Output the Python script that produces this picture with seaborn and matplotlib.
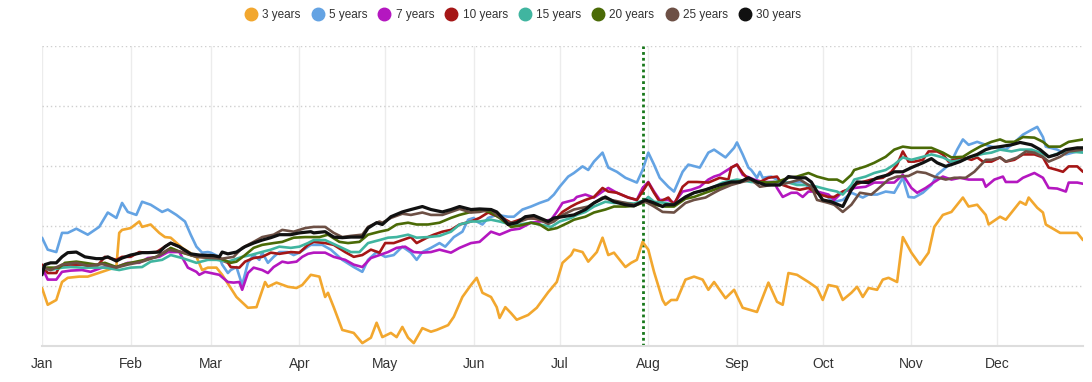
import numpy as np
import pandas as pd
import matplotlib
matplotlib.use("Agg")
import matplotlib.pyplot as plt
import seaborn as sns
from matplotlib.lines import Line2D

# ---------------- data ----------------
months = ["Jan", "Feb", "Mar", "Apr", "May", "Jun", "Jul", "Aug", "Sep", "Oct", "Nov", "Dec"]
month_start_day = [0, 31, 59, 90, 120, 151, 181, 212, 243, 273, 304, 334]
series_names = ["3 years", "5 years", "7 years", "10 years", "15 years", "20 years", "25 years", "30 years"]
series_colors = ["#F2A72E", "#64A3E3", "#B417C0", "#A51616", "#40B5A0", "#4A6A06", "#6D5045", "#111111"]
marker_day = 210  # Jul 30

# (day of year, value)
y3 = [(0,0.96),(2,0.68),(5,0.76),(7,1.06),(9,1.13),(13,1.15),(16,1.15),(21,1.23),(26,1.31),(27,1.88),
      (28,1.93),(31,1.96),(34,2.07),(35,1.98),(38,2.02),(41,1.88),(43,1.81),(45,1.80),(49,1.63),(54,1.48),
      (56,1.26),(58,1.30),(61,1.30),(63,1.18),(66,0.96),(68,0.81),(72,0.63),(75,0.64),(78,1.06),(79,0.98),
      (82,1.05),(86,0.98),(89,0.96),(91,1.01),(94,1.18),(97,1.15),(99,0.81),(100,0.88),(102,0.64),(105,0.26),
      (109,0.21),(112,0.04),(115,0.13),(117,0.38),(119,0.14),(122,0.21),(124,0.14),(126,0.31),(128,0.13),(130,0.04),
      (133,0.29),(136,0.23),(138,0.26),(142,0.34),(144,0.48),(147,0.81),(150,1.01),(152,1.13),(154,0.88),(157,0.81),
      (159,0.64),(160,0.46),(162,0.64),(164,0.54),(166,0.43),(170,0.51),(173,0.63),(177,0.89),(180,1.06),(182,1.38),
      (185,1.51),(186,1.60),(189,1.56),(191,1.40),(194,1.56),(196,1.80),(198,1.51),(200,1.55),(204,1.31),(206,1.38),
      (208,1.43),(210,1.73),(212,1.60),(214,1.23),(217,0.76),(218,0.68),(220,0.76),(222,0.76),(225,1.10),(228,1.15),
      (231,1.10),(233,0.93),(235,1.06),(239,0.79),(242,0.93),(245,0.63),(250,0.56),(254,1.05),(257,0.73),(259,0.68),
      (261,1.21),(264,1.18),(268,1.06),(271,0.96),(273,0.76),(275,1.01),(278,0.98),(280,0.76),(283,0.88),(285,0.98),
      (287,0.81),(289,0.96),(292,0.93),(294,1.10),(296,1.13),(299,1.06),(301,1.81),(304,1.55),(307,1.35),(310,1.55),
      (312,1.98),(315,2.18),(318,2.23),(322,2.47),(324,2.32),(327,2.35),(330,2.18),(331,2.02),(335,2.15),(337,2.10),
      (342,2.40),(344,2.35),(345,2.47),(348,2.30),(350,2.22),(351,2.02),(356,1.88),(358,1.88),(362,1.88),(364,1.76)]

y5 = [(0,1.80),(2,1.60),(5,1.56),(7,1.88),(9,1.88),(12,1.95),(16,1.85),(20,1.98),(23,2.22),(26,2.13),
      (28,2.38),(30,2.23),(33,2.18),(35,2.40),(38,2.35),(42,2.23),(44,2.27),(47,2.18),(50,2.07),(52,1.85),
      (54,1.65),(56,1.55),(58,1.56),(59,1.55),(62,1.48),(63,1.35),(65,1.21),(66,1.26),(68,1.31),(70,1.01),
      (72,1.38),(74,1.51),(76,1.43),(77,1.55),(79,1.38),(81,1.48),(83,1.56),(86,1.56),(88,1.51),(90,1.55),
      (93,1.65),(94,1.68),(98,1.68),(101,1.60),(105,1.43),(109,1.31),(112,1.23),(114,1.43),(117,1.56),(120,1.48),
      (123,1.51),(126,1.65),(129,1.55),(131,1.43),(133,1.56),(136,1.63),(139,1.71),(141,1.65),(144,1.81),(147,1.90),
      (149,2.10),(151,2.13),(152,2.07),(154,2.02),(156,2.13),(159,2.18),(163,2.15),(165,2.15),(168,2.27),(171,2.32),
      (174,2.38),(177,2.43),(179,2.52),(181,2.65),(184,2.82),(186,2.88),(189,2.99),(191,2.93),(193,3.07),(196,3.22),
      (198,2.97),(201,2.90),(204,2.80),(208,2.72),(210,2.93),(212,3.22),(214,3.02),(216,2.80),(219,2.65),(221,2.57),
      (224,2.90),(226,3.02),(230,2.97),(233,3.22),(235,3.27),(239,3.14),(242,3.30),(243,3.39),(245,3.19),(247,2.97),
      (248,2.93),(250,2.80),(251,2.90),(252,2.80),(255,2.82),(259,2.72),(263,2.72),(266,2.73),(269,2.60),(272,2.55),
      (275,2.47),(277,2.40),(280,2.43),(283,2.55),(287,2.47),(289,2.52),(292,2.52),(295,2.57),(298,2.55),(301,2.80),
      (303,2.48),(305,2.47),(308,2.55),(311,2.68),(313,2.85),(316,2.97),(318,3.07),(320,3.27),(322,3.44),(324,3.35),
      (327,3.40),(330,3.35),(332,3.32),(335,3.30),(337,3.27),(340,3.39),(343,3.52),(346,3.60),(348,3.65),(350,3.48),
      (351,3.32),(355,3.27),(358,3.19),(362,3.24),(364,3.24)]

y7 = [(0,1.31),(2,1.10),(5,1.10),(7,1.23),(10,1.25),(14,1.26),(17,1.23),(21,1.30),(26,1.31),(30,1.38),
      (34,1.38),(37,1.46),(41,1.48),(44,1.56),(48,1.56),(51,1.30),(54,1.23),(55,1.18),(57,1.23),(59,1.21),
      (62,1.18),(65,1.06),(67,1.05),(69,1.06),(70,0.93),(72,1.21),(74,1.30),(77,1.26),(79,1.21),(81,1.31),
      (84,1.40),(86,1.38),(89,1.40),(91,1.48),(93,1.53),(95,1.55),(99,1.55),(102,1.48),(106,1.43),(109,1.35),
      (112,1.31),(115,1.46),(118,1.51),(121,1.56),(124,1.63),(127,1.65),(130,1.56),(133,1.55),(136,1.56),(139,1.60),
      (143,1.55),(146,1.63),(150,1.71),(153,1.73),(157,1.90),(160,1.85),(164,1.93),(167,1.95),(171,2.05),(174,2.07),
      (178,2.10),(180,2.23),(182,2.38),(186,2.43),(187,2.48),(190,2.52),(193,2.47),(196,2.57),(198,2.63),(201,2.55),
      (205,2.47),(208,2.43),(210,2.63),(212,2.73),(214,2.57),(216,2.43),(219,2.43),(221,2.38),(224,2.57),(227,2.60),
      (230,2.65),(233,2.77),(235,2.82),(237,2.85),(241,2.97),(243,3.02),(245,2.85),(249,2.77),(252,2.73),(256,2.73),
      (257,2.63),(259,2.48),(262,2.55),(264,2.55),(266,2.48),(268,2.57),(271,2.57),(275,2.52),(277,2.43),(280,2.57),
      (283,2.60),(284,2.63),(288,2.65),(291,2.72),(295,2.72),(298,2.72),(301,2.85),(304,2.63),(306,2.55),(309,2.63),
      (312,2.73),(315,2.82),(318,2.77),(321,2.80),(324,2.77),(327,2.77),(329,2.77),(330,2.65),(333,2.77),(336,2.82),
      (337,2.73),(341,2.73),(343,2.80),(347,2.88),(350,2.80),(352,2.63),(355,2.62),(358,2.57),(359,2.72),(362,2.72),
      (364,2.70)]

y10 = [(0,1.35),(2,1.21),(5,1.21),(6,1.31),(9,1.35),(14,1.35),(19,1.31),(22,1.48),(26,1.43),(28,1.48),
       (31,1.48),(34,1.56),(36,1.55),(40,1.56),(43,1.65),(45,1.71),(48,1.65),(52,1.51),(56,1.48),(61,1.46),
       (65,1.38),(66,1.31),(69,1.30),(71,1.40),(74,1.46),(77,1.48),(80,1.55),(83,1.53),(87,1.56),(90,1.55),
       (93,1.68),(95,1.73),(99,1.71),(102,1.68),(106,1.56),(109,1.48),(112,1.51),(115,1.60),(118,1.55),(120,1.71),
       (123,1.71),(126,1.76),(129,1.81),(131,1.71),(135,1.81),(137,1.85),(140,1.90),(143,1.93),(146,2.02),(150,2.07),
       (153,2.13),(156,2.22),(158,2.18),(161,2.13),(164,2.05),(167,2.10),(171,2.13),(174,2.10),(177,2.05),(180,2.13),
       (182,2.23),(185,2.32),(187,2.37),(190,2.43),(193,2.48),(196,2.63),(198,2.57),(201,2.55),(205,2.47),(208,2.43),
       (210,2.57),(212,2.72),(214,2.55),(216,2.40),(219,2.47),(221,2.35),(224,2.65),(226,2.73),(229,2.73),(233,2.72),
       (237,2.80),(240,2.77),(241,2.97),(243,3.02),(245,2.88),(247,2.77),(249,2.73),(251,2.73),(254,2.80),(257,2.82),
       (259,2.68),(262,2.63),(265,2.60),(268,2.63),(270,2.57),(272,2.52),(275,2.48),(277,2.48),(280,2.57),(283,2.63),
       (284,2.68),(287,2.73),(290,2.77),(294,2.80),(297,2.90),(299,3.02),(301,3.24),(303,3.07),(305,3.07),(308,3.10),
       (310,3.24),(313,3.24),(315,3.19),(317,3.07),(319,3.10),(322,3.14),(325,3.10),(327,3.14),(329,3.07),(332,3.07),
       (335,3.14),(337,3.07),(340,3.10),(343,3.19),(347,3.19),(350,3.14),(352,2.97),(355,2.93),(357,2.90),(359,2.99),
       (362,2.99),(364,2.90)]

y15 = [(0,1.30),(3,1.26),(7,1.30),(10,1.31),(14,1.30),(17,1.30),(22,1.30),(27,1.26),(31,1.30),(35,1.31),
       (38,1.40),(42,1.43),(45,1.51),(49,1.46),(54,1.38),(58,1.43),(61,1.43),(65,1.40),(67,1.43),(70,1.48),
       (73,1.51),(76,1.55),(80,1.60),(83,1.65),(87,1.63),(90,1.65),(93,1.71),(95,1.76),(99,1.76),(104,1.65),
       (108,1.56),(111,1.56),(114,1.71),(118,1.76),(121,1.80),(124,1.81),(128,1.85),(131,1.80),(135,1.81),(139,1.83),
       (143,1.90),(146,2.02),(150,2.07),(153,2.07),(157,2.10),(160,2.07),(164,2.02),(167,2.02),(171,2.05),(174,2.02),
       (178,1.98),(181,2.07),(185,2.13),(187,2.18),(190,2.23),(193,2.32),(197,2.40),(200,2.38),(204,2.38),(207,2.37),
       (211,2.43),(212,2.48),(214,2.40),(218,2.38),(221,2.35),(225,2.48),(228,2.55),(232,2.60),(235,2.65),(238,2.72),
       (243,2.77),(248,2.73),(252,2.72),(257,2.73),(261,2.72),(264,2.68),(268,2.68),(271,2.65),(275,2.60),(278,2.57),
       (280,2.52),(283,2.68),(284,2.77),(288,2.82),(291,2.88),(295,2.93),(298,3.02),(301,3.14),(304,3.10),(308,3.15),
       (311,3.19),(315,3.14),(318,3.07),(322,3.10),(325,3.15),(329,3.20),(332,3.22),(335,3.27),(339,3.24),(342,3.27),
       (346,3.27),(349,3.22),(352,3.15),(356,3.22),(359,3.24),(364,3.22)]

y20 = [(0,1.30),(2,1.30),(6,1.30),(8,1.38),(12,1.40),(15,1.38),(19,1.35),(22,1.38),(26,1.31),(29,1.36),
       (33,1.40),(36,1.43),(40,1.48),(43,1.56),(45,1.63),(49,1.55),(54,1.48),(59,1.48),(62,1.46),(66,1.38),
       (68,1.40),(71,1.51),(74,1.63),(77,1.68),(81,1.71),(84,1.73),(88,1.80),(92,1.81),(97,1.81),(100,1.85),
       (104,1.73),(107,1.71),(111,1.73),(114,1.85),(118,1.90),(121,1.93),(124,2.02),(128,2.05),(131,2.02),(135,2.02),
       (139,2.05),(143,2.13),(146,2.18),(150,2.23),(153,2.27),(157,2.22),(160,2.13),(164,1.98),(167,2.00),(171,2.05),
       (174,2.02),(177,1.93),(180,1.96),(184,2.05),(186,2.10),(190,2.15),(193,2.22),(197,2.27),(200,2.32),(204,2.32),
       (207,2.33),(211,2.40),(214,2.35),(218,2.32),(221,2.32),(225,2.45),(228,2.48),(232,2.55),(235,2.60),(238,2.65),
       (243,2.73),(247,2.78),(250,2.73),(254,2.72),(257,2.73),(261,2.80),(264,2.82),(268,2.88),(271,2.82),(275,2.77),
       (278,2.77),(280,2.72),(283,2.85),(284,2.93),(288,2.99),(291,3.05),(295,3.15),(298,3.27),(301,3.32),(304,3.30),
       (308,3.30),(311,3.30),(315,3.22),(318,3.14),(322,3.15),(325,3.24),(328,3.32),(332,3.40),(335,3.44),(337,3.40),
       (340,3.40),(343,3.48),(347,3.47),(350,3.40),(352,3.32),(356,3.32),(359,3.40),(364,3.44)]

y25 = [(0,1.31),(3,1.26),(7,1.35),(12,1.38),(16,1.33),(21,1.36),(26,1.30),(30,1.35),(35,1.40),(40,1.48),
       (44,1.60),(49,1.56),(54,1.48),(59,1.46),(63,1.45),(67,1.48),(70,1.63),(74,1.73),(77,1.81),(81,1.85),
       (84,1.93),(88,1.90),(92,1.96),(95,1.98),(99,1.98),(102,1.88),(105,1.81),(108,1.83),(112,1.85),(114,1.98),
       (118,2.07),(119,2.05),(122,2.13),(126,2.20),(129,2.18),(133,2.22),(136,2.18),(140,2.18),(143,2.23),(146,2.28),
       (150,2.22),(153,2.23),(157,2.27),(159,2.18),(163,2.05),(166,2.05),(170,2.12),(173,2.12),(177,2.03),(179,2.07),
       (182,2.18),(186,2.27),(191,2.32),(196,2.47),(199,2.43),(204,2.38),(207,2.35),(211,2.40),(214,2.32),(217,2.23),
       (221,2.22),(225,2.38),(228,2.43),(232,2.47),(235,2.55),(237,2.60),(241,2.68),(244,2.72),(248,2.77),(251,2.65),
       (255,2.68),(258,2.68),(262,2.73),(265,2.77),(269,2.65),(271,2.43),(275,2.38),(277,2.35),(280,2.23),(283,2.35),
       (286,2.55),(290,2.52),(292,2.60),(296,2.77),(299,2.82),(303,2.83),(306,2.90),(309,2.88),(312,2.82),(316,2.77),
       (319,2.80),(323,2.80),(326,2.90),(330,3.10),(332,3.10),(335,3.14),(337,3.07),(341,3.14),(344,3.24),(347,3.22),
       (350,3.15),(352,3.07),(356,3.15),(359,3.24),(364,3.27)]

y30 = [(0,1.18),(1,1.35),(3,1.38),(5,1.38),(7,1.48),(9,1.55),(12,1.56),(15,1.48),(19,1.45),(21,1.45),
       (23,1.48),(26,1.41),(28,1.46),(31,1.51),(35,1.55),(37,1.55),(41,1.56),(43,1.65),(45,1.71),(48,1.65),
       (52,1.53),(55,1.51),(60,1.50),(62,1.48),(63,1.56),(65,1.53),(68,1.56),(71,1.65),(74,1.71),(77,1.76),
       (80,1.80),(83,1.85),(87,1.85),(90,1.88),(94,1.90),(95,1.88),(99,1.90),(102,1.81),(105,1.80),(108,1.81),
       (112,1.81),(114,1.96),(117,2.05),(119,2.02),(122,2.15),(126,2.23),(129,2.27),(133,2.32),(136,2.27),(140,2.23),
       (143,2.27),(146,2.32),(150,2.27),(153,2.28),(157,2.27),(159,2.23),(161,2.13),(163,2.02),(166,2.05),(169,2.15),
       (172,2.17),(174,2.13),(177,2.07),(179,2.13),(182,2.15),(186,2.18),(190,2.27),(193,2.38),(197,2.48),(200,2.40),
       (204,2.35),(207,2.33),(211,2.43),(214,2.38),(217,2.32),(218,2.35),(221,2.35),(225,2.48),(228,2.55),(232,2.60),
       (235,2.65),(237,2.68),(241,2.73),(244,2.73),(247,2.80),(250,2.73),(253,2.68),(256,2.68),(258,2.68),(261,2.82),
       (264,2.80),(267,2.80),(269,2.73),(271,2.57),(273,2.43),(276,2.40),(280,2.32),(283,2.60),(285,2.73),(289,2.72),
       (292,2.80),(296,2.85),(298,2.90),(301,2.90),(304,2.97),(308,3.05),(311,3.12),(313,3.05),(316,2.99),(318,3.02),
       (321,3.07),(324,3.14),(327,3.19),(330,3.27),(332,3.30),(335,3.32),(339,3.35),(342,3.39),(346,3.35),(349,3.27),
       (352,3.15),(355,3.19),(358,3.27),(362,3.30),(364,3.30)]

all_series = [y3, y5, y7, y10, y15, y20, y25, y30]

rows = []
for name, pts in zip(series_names, all_series):
    for d, v in pts:
        rows.append((name, d, v))
df = pd.DataFrame(rows, columns=["series", "day", "value"])

# ---------------- plot ----------------
sns.set_theme(style="white")
plt.rcParams["font.family"] = ["Liberation Sans", "DejaVu Sans"]

W, H = 1092, 382
fig = plt.figure(figsize=(W / 100, H / 100), dpi=100)
ax = fig.add_axes([42 / W, 36.5 / H, 1041 / W, 299.5 / H])

sns.lineplot(data=df, x="day", y="value", hue="series", hue_order=series_names,
             palette=series_colors, estimator=None, sort=False, linewidth=1.9,
             legend=False, ax=ax)
for ln in ax.lines:
    ln.set_solid_joinstyle("round")
    ln.set_solid_capstyle("round")
ax.lines[-1].set_linewidth(2.3)

ax.axvline(marker_day, color="#17771A", linestyle=(0, (1, 1.1)), linewidth=2.0, zorder=1)

ax.set_xlim(0, 364)
ax.set_ylim(0, 5)
ax.set_yticks([1, 2, 3, 4, 5])
ax.set_xticks(month_start_day)
ax.set_xticklabels(months)
ax.tick_params(axis="y", left=False, labelleft=False)
ax.tick_params(axis="x", length=0, pad=8, labelsize=10, colors="#333333")
ax.set_xlabel("")
ax.set_ylabel("")
ax.set_axisbelow(True)
ax.yaxis.grid(True, linestyle=(0, (1, 2)), color="#cfcfcf", linewidth=1)
ax.xaxis.grid(True, linestyle="-", color="#ececec", linewidth=1)
for s in ["top", "right", "left"]:
    ax.spines[s].set_visible(False)
ax.spines["bottom"].set_color("#dddddd")
ax.spines["bottom"].set_linewidth(1.5)

handles = [Line2D([], [], marker="o", linestyle="", markersize=9,
                  markerfacecolor=c, markeredgecolor=c) for c in series_colors]
fig.legend(handles, series_names, loc="center", bbox_to_anchor=(0.479, 0.96),
           ncol=8, frameon=False, fontsize=8.5, handletextpad=0.45,
           columnspacing=0.95, handlelength=1.0, labelcolor="#333333")

fig.savefig("out.png", dpi=100)
